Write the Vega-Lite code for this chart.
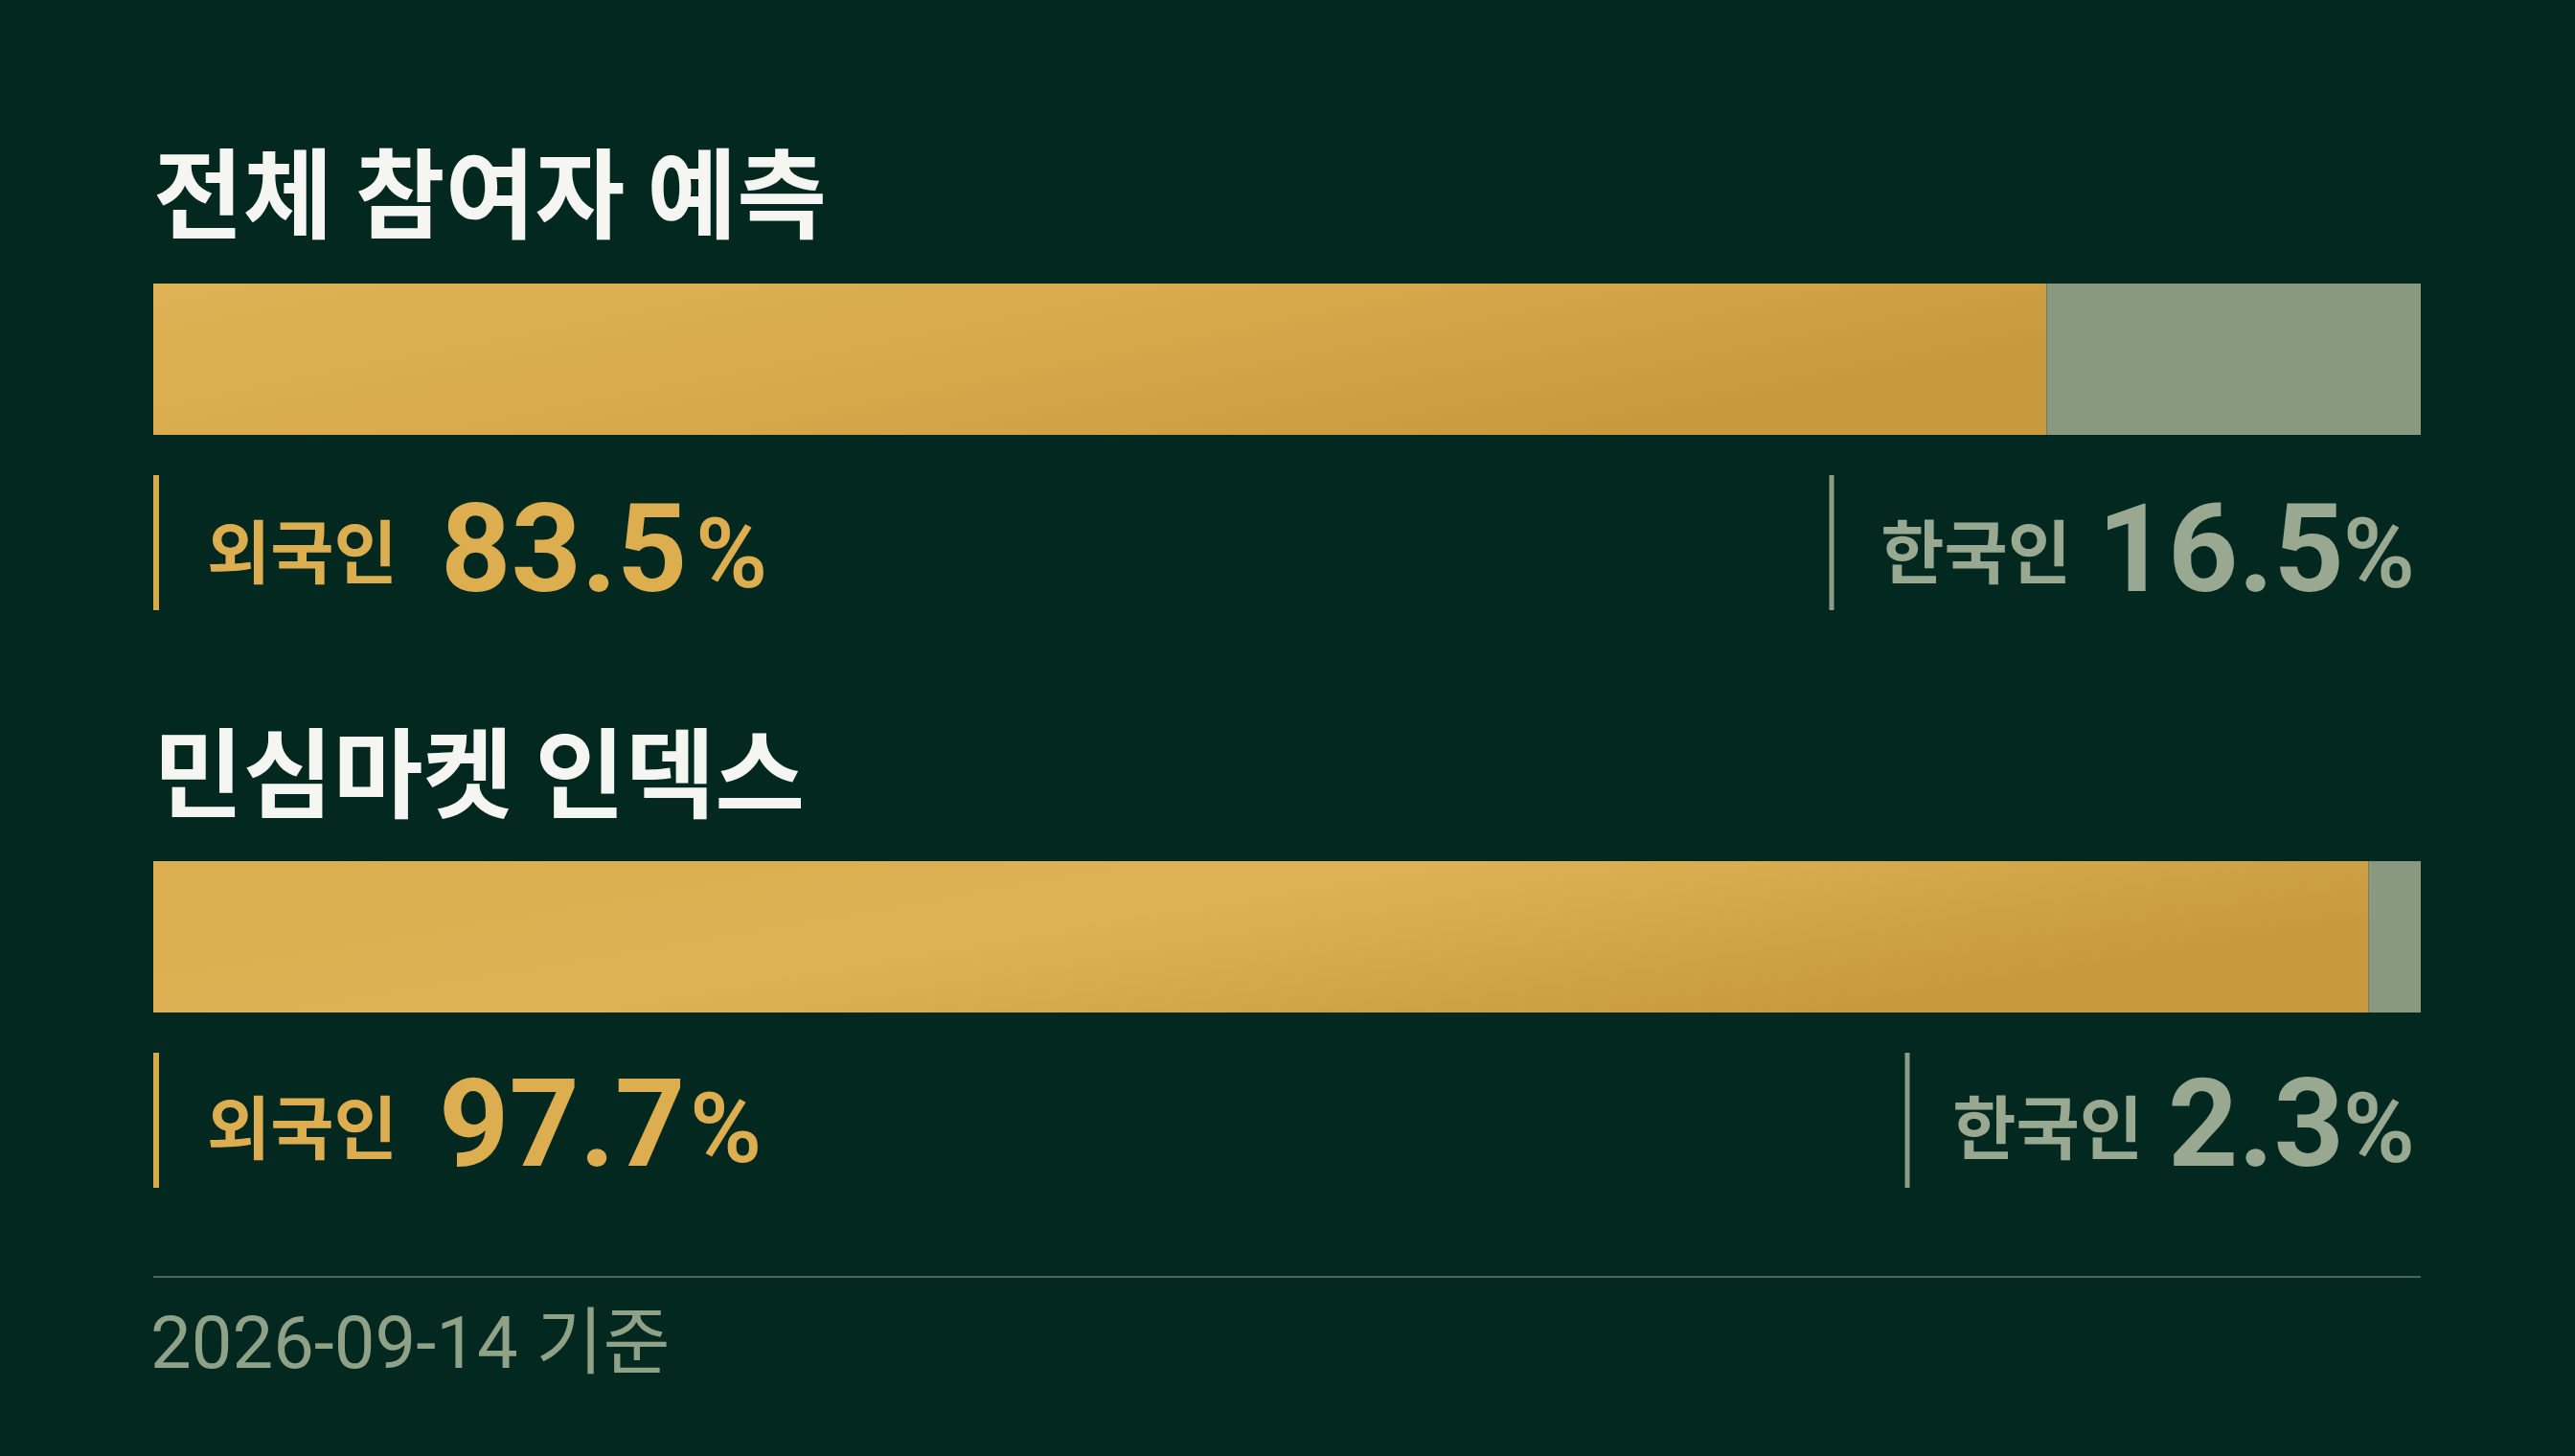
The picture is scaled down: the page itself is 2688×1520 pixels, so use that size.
{
  "$schema": "https://vega.github.io/schema/vega-lite/v6.json",
  "background": "#03281f",
  "padding": {"left": 157, "top": 76, "right": 161, "bottom": 79},
  "datasets": {
    "shares": [
      {"group": "전체 참여자 예측", "who": "외국인", "pct": 83.5, "order": 1},
      {"group": "전체 참여자 예측", "who": "한국인", "pct": 16.5, "order": 2},
      {"group": "민심마켓 인덱스", "who": "외국인", "pct": 97.7, "order": 1},
      {"group": "민심마켓 인덱스", "who": "한국인", "pct": 2.3, "order": 2}
    ],
    "asof": [{"note": "2026-09-14 기준"}]
  },
  "config": {
    "view": {"stroke": null}
  },
  "bounds": "flush",
  "spacing": 42,
  "vconcat": [
    {
      "width": 2367,
      "height": 178,
      "data": {"name": "shares"},
      "transform": [{"filter": "datum.group === '전체 참여자 예측' && datum.who === '외국인'"}],
      "mark": {"type": "text", "align": "left", "baseline": "alphabetic", "dy": 76, "font": "Noto Sans CJK KR", "fontWeight": 700, "fontSize": 102, "color": "#f5f5f2"},
      "encoding": {
        "x": {"datum": 0, "type": "quantitative", "scale": {"domain": [0, 100]}, "axis": null},
        "text": {"field": "group"}
      }
    },
    {
      "width": 2367,
      "height": 158,
      "data": {"name": "shares"},
      "transform": [
        {"filter": "datum.group === '전체 참여자 예측'"},
        {"stack": "pct", "groupby": ["group"], "sort": [{"field": "order", "order": "ascending"}], "as": ["x0", "x1"]}
      ],
      "layer": [
        {
          "transform": [{"filter": "datum.who === '외국인'"}],
          "mark": {
            "type": "rect",
            "color": {
              "gradient": "linear",
              "x1": 0, "y1": 0, "x2": 1, "y2": 0.4,
              "stops": [
                {"offset": 0, "color": "#deb254"},
                {"offset": 0.55, "color": "#d7a94b"},
                {"offset": 1, "color": "#c8993f"}
              ]
            }
          },
          "encoding": {
            "x": {"field": "x0", "type": "quantitative", "scale": {"domain": [0, 100]}, "axis": null},
            "x2": {"field": "x1"}
          }
        },
        {
          "transform": [{"filter": "datum.who === '한국인'"}],
          "mark": {"type": "rect", "color": "#88997f"},
          "encoding": {
            "x": {"field": "x0", "type": "quantitative", "scale": {"domain": [0, 100]}, "axis": null},
            "x2": {"field": "x1"}
          }
        }
      ]
    },
    {
      "width": 2367,
      "height": 141,
      "data": {"name": "shares"},
      "transform": [{"filter": "datum.group === '전체 참여자 예측'"}],
      "layer": [
        {
          "transform": [{"filter": "datum.who === '외국인'"}],
          "layer": [
            {
              "mark": {"type": "rule", "color": "#d9a94b", "strokeWidth": 6, "xOffset": 3},
              "encoding": {"x": {"datum": 0, "type": "quantitative", "scale": {"domain": [0, 100]}, "axis": null}}
            },
            {
              "mark": {"type": "text", "align": "left", "baseline": "alphabetic", "dx": 56, "dy": 36, "font": "Noto Sans CJK KR", "fontWeight": 700, "fontSize": 72, "color": "#dcae50"},
              "encoding": {"x": {"datum": 0, "type": "quantitative"}, "text": {"field": "who"}}
            },
            {
              "mark": {"type": "text", "align": "left", "baseline": "alphabetic", "dx": 300, "dy": 50, "font": "Roboto", "fontWeight": 700, "fontSize": 128, "color": "#dcae50"},
              "encoding": {"x": {"datum": 0, "type": "quantitative"}, "text": {"field": "pct", "format": ".1f"}}
            },
            {
              "mark": {"type": "text", "text": "%", "align": "left", "baseline": "alphabetic", "dx": 566, "dy": 46, "font": "Roboto", "fontWeight": 600, "fontSize": 102, "color": "#dcae50"},
              "encoding": {"x": {"datum": 0, "type": "quantitative"}}
            }
          ]
        },
        {
          "transform": [{"filter": "datum.who === '한국인'"}],
          "layer": [
            {
              "mark": {"type": "rule", "color": "#8d9d85", "strokeWidth": 5, "xOffset": -615},
              "encoding": {"x": {"datum": 100, "type": "quantitative"}}
            },
            {
              "mark": {"type": "text", "align": "right", "baseline": "alphabetic", "dx": -365, "dy": 36, "font": "Noto Sans CJK KR", "fontWeight": 700, "fontSize": 72, "color": "#98a891"},
              "encoding": {"x": {"datum": 100, "type": "quantitative"}, "text": {"field": "who"}}
            },
            {
              "mark": {"type": "text", "align": "right", "baseline": "alphabetic", "dx": -80, "dy": 50, "font": "Roboto", "fontWeight": 700, "fontSize": 128, "color": "#98a891"},
              "encoding": {"x": {"datum": 100, "type": "quantitative"}, "text": {"field": "pct", "format": ".1f"}}
            },
            {
              "mark": {"type": "text", "text": "%", "align": "right", "baseline": "alphabetic", "dx": -6, "dy": 46, "font": "Roboto", "fontWeight": 600, "fontSize": 102, "color": "#98a891"},
              "encoding": {"x": {"datum": 100, "type": "quantitative"}}
            }
          ]
        }
      ]
    },
    {
      "width": 2367,
      "height": 178,
      "data": {"name": "shares"},
      "transform": [{"filter": "datum.group === '민심마켓 인덱스' && datum.who === '외국인'"}],
      "mark": {"type": "text", "align": "left", "baseline": "alphabetic", "dy": 78, "font": "Noto Sans CJK KR", "fontWeight": 700, "fontSize": 102, "color": "#f5f5f2"},
      "encoding": {
        "x": {"datum": 0, "type": "quantitative", "scale": {"domain": [0, 100]}, "axis": null},
        "text": {"field": "group"}
      }
    },
    {
      "width": 2367,
      "height": 158,
      "data": {"name": "shares"},
      "transform": [
        {"filter": "datum.group === '민심마켓 인덱스'"},
        {"stack": "pct", "groupby": ["group"], "sort": [{"field": "order", "order": "ascending"}], "as": ["x0", "x1"]}
      ],
      "layer": [
        {
          "transform": [{"filter": "datum.who === '외국인'"}],
          "mark": {
            "type": "rect",
            "color": {
              "gradient": "linear",
              "x1": 0, "y1": 0, "x2": 1, "y2": 0.4,
              "stops": [
                {"offset": 0, "color": "#dbae50"},
                {"offset": 0.5, "color": "#deb254"},
                {"offset": 1, "color": "#c8993f"}
              ]
            }
          },
          "encoding": {
            "x": {"field": "x0", "type": "quantitative", "scale": {"domain": [0, 100]}, "axis": null},
            "x2": {"field": "x1"}
          }
        },
        {
          "transform": [{"filter": "datum.who === '한국인'"}],
          "mark": {"type": "rect", "color": "#88997f"},
          "encoding": {
            "x": {"field": "x0", "type": "quantitative", "scale": {"domain": [0, 100]}, "axis": null},
            "x2": {"field": "x1"}
          }
        }
      ]
    },
    {
      "width": 2367,
      "height": 141,
      "data": {"name": "shares"},
      "transform": [{"filter": "datum.group === '민심마켓 인덱스'"}],
      "layer": [
        {
          "transform": [{"filter": "datum.who === '외국인'"}],
          "layer": [
            {
              "mark": {"type": "rule", "color": "#d9a94b", "strokeWidth": 6, "xOffset": 3},
              "encoding": {"x": {"datum": 0, "type": "quantitative", "scale": {"domain": [0, 100]}, "axis": null}}
            },
            {
              "mark": {"type": "text", "align": "left", "baseline": "alphabetic", "dx": 56, "dy": 34, "font": "Noto Sans CJK KR", "fontWeight": 700, "fontSize": 72, "color": "#dcae50"},
              "encoding": {"x": {"datum": 0, "type": "quantitative"}, "text": {"field": "who"}}
            },
            {
              "mark": {"type": "text", "align": "left", "baseline": "alphabetic", "dx": 298, "dy": 47, "font": "Roboto", "fontWeight": 700, "fontSize": 128, "color": "#dcae50"},
              "encoding": {"x": {"datum": 0, "type": "quantitative"}, "text": {"field": "pct", "format": ".1f"}}
            },
            {
              "mark": {"type": "text", "text": "%", "align": "left", "baseline": "alphabetic", "dx": 560, "dy": 43, "font": "Roboto", "fontWeight": 600, "fontSize": 102, "color": "#dcae50"},
              "encoding": {"x": {"datum": 0, "type": "quantitative"}}
            }
          ]
        },
        {
          "transform": [{"filter": "datum.who === '한국인'"}],
          "layer": [
            {
              "mark": {"type": "rule", "color": "#8d9d85", "strokeWidth": 5, "xOffset": -536},
              "encoding": {"x": {"datum": 100, "type": "quantitative"}}
            },
            {
              "mark": {"type": "text", "align": "right", "baseline": "alphabetic", "dx": -290, "dy": 34, "font": "Noto Sans CJK KR", "fontWeight": 700, "fontSize": 72, "color": "#98a891"},
              "encoding": {"x": {"datum": 100, "type": "quantitative"}, "text": {"field": "who"}}
            },
            {
              "mark": {"type": "text", "align": "right", "baseline": "alphabetic", "dx": -80, "dy": 47, "font": "Roboto", "fontWeight": 700, "fontSize": 128, "color": "#98a891"},
              "encoding": {"x": {"datum": 100, "type": "quantitative"}, "text": {"field": "pct", "format": ".1f"}}
            },
            {
              "mark": {"type": "text", "text": "%", "align": "right", "baseline": "alphabetic", "dx": -6, "dy": 43, "font": "Roboto", "fontWeight": 600, "fontSize": 102, "color": "#98a891"},
              "encoding": {"x": {"datum": 100, "type": "quantitative"}}
            }
          ]
        }
      ]
    },
    {
      "width": 2367,
      "height": 51,
      "data": {"name": "asof"},
      "mark": {"type": "rule", "color": "#4a665a", "strokeWidth": 2},
      "encoding": {"y": {"datum": 0, "type": "quantitative", "scale": {"domain": [0, 1]}, "axis": null}}
    },
    {
      "width": 2367,
      "height": 52,
      "data": {"name": "asof"},
      "mark": {"type": "text", "align": "left", "baseline": "alphabetic", "dy": 27, "dx": -3, "font": "Roboto, Noto Sans CJK KR", "fontSize": 76, "color": "#8fa187"},
      "encoding": {
        "x": {"datum": 0, "type": "quantitative", "scale": {"domain": [0, 100]}, "axis": null},
        "text": {"field": "note"}
      }
    }
  ]
}
